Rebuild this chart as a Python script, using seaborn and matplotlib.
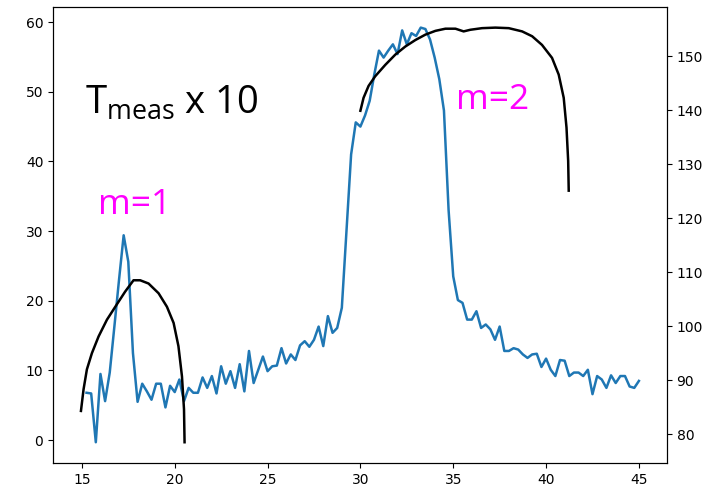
import numpy as np
import pandas as pd
import matplotlib
matplotlib.use("Agg")
import matplotlib.pyplot as plt
import seaborn as sns

# ================= DATA =================
# measured transmission (left axis), sampled every 0.25 from 15.25 to 45
X_START = 15.25
X_STEP = 0.25
t_meas = [
    6.8, 6.7, -0.3, 9.5, 5.6, 9.7, 16.3, 23.0, 29.4, 25.6,
    12.5, 5.5, 8.1, 7.0, 5.8, 8.1, 8.1, 4.7, 7.8, 6.9,
    8.7, 5.6, 7.5, 6.8, 6.8, 9.0, 7.5, 9.2, 6.7, 10.6,
    8.1, 9.9, 7.5, 10.9, 7.0, 12.8, 8.2, 10.1, 12.0, 9.9,
    10.6, 10.7, 13.2, 11.0, 12.3, 11.5, 13.6, 14.2, 13.4, 14.4,
    16.3, 13.5, 17.8, 15.4, 16.1, 19.0, 30.0, 41.0, 45.6, 45.0,
    46.6, 48.7, 52.5, 55.9, 54.9, 55.9, 56.8, 55.4, 58.8, 56.8,
    58.4, 58.0, 59.2, 59.0, 57.5, 54.9, 51.8, 47.3, 33.0, 23.5,
    20.1, 19.7, 17.3, 17.3, 18.5, 16.1, 16.6, 15.9, 14.4, 16.3,
    12.8, 12.8, 13.2, 13.0, 12.3, 11.8, 12.3, 12.4, 10.5, 11.7,
    10.1, 9.2, 11.5, 11.4, 9.2, 9.7, 9.7, 9.2, 10.1, 6.6,
    9.2, 8.7, 7.5, 9.3, 8.2, 9.2, 9.2, 7.7, 7.5, 8.5,
]
x_meas = X_START + X_STEP * np.arange(len(t_meas))

# model curves (right axis)
m1_x = [14.95, 15.09, 15.27, 15.54, 15.9, 16.35, 16.8, 17.33, 17.78, 18.14,
        18.59, 19.13, 19.58, 19.94, 20.2, 20.39, 20.5, 20.53]
m1_y = [84.3, 88.3, 92.0, 95.0, 98.1, 101.2, 103.6, 106.4, 108.5, 108.5,
        107.9, 106.1, 103.6, 100.6, 96.3, 90.7, 84.6, 78.5]

m2_x = [30.0, 30.17, 30.44, 30.8, 31.34, 31.88, 32.42, 32.96, 33.5, 34.04,
        34.58, 35.12, 35.56, 35.92, 36.55, 37.27, 37.99, 38.71, 39.25, 39.78,
        40.32, 40.68, 40.95, 41.1, 41.19, 41.22]
m2_y = [139.9, 142.3, 144.5, 146.3, 148.4, 150.3, 151.8, 153.0, 154.0, 154.7,
        155.1, 155.1, 154.6, 154.9, 155.2, 155.3, 155.2, 154.6, 153.7, 152.1,
        149.7, 146.6, 142.3, 136.8, 130.6, 125.1]

LABEL_FONT = ["Open Sans", "DejaVu Sans"]

# ================= PLOT =================
fig, ax = plt.subplots(figsize=(7.17, 4.92), dpi=100)
fig.subplots_adjust(left=0.074, right=0.930, bottom=0.059, top=0.986)

sns.lineplot(x=x_meas, y=t_meas, ax=ax, color="#1f77b4", linewidth=1.8,
             estimator=None, sort=False)

ax2 = ax.twinx()
sns.lineplot(x=m1_x, y=m1_y, ax=ax2, color="black", linewidth=1.8,
             estimator=None, sort=False)
sns.lineplot(x=m2_x, y=m2_y, ax=ax2, color="black", linewidth=1.8,
             estimator=None, sort=False)

ax.set_xticks([15, 20, 25, 30, 35, 40, 45])
ax.set_yticks([0, 10, 20, 30, 40, 50, 60])
ax2.set_yticks([80, 90, 100, 110, 120, 130, 140, 150])

# ================= ANNOTATIONS =================
ax.text(0.052, 0.765, r"T$_{\mathregular{meas}}$ x 10", transform=ax.transAxes,
        fontsize=27.5, family=LABEL_FONT, color="black")
ax.text(0.073, 0.545, "m=1", transform=ax.transAxes,
        fontsize=25.5, family=LABEL_FONT, color="#ff00ff")
ax.text(0.656, 0.776, "m=2", transform=ax.transAxes,
        fontsize=25.5, family=LABEL_FONT, color="#ff00ff")

plt.savefig("out.png", dpi=100)
plt.close()
